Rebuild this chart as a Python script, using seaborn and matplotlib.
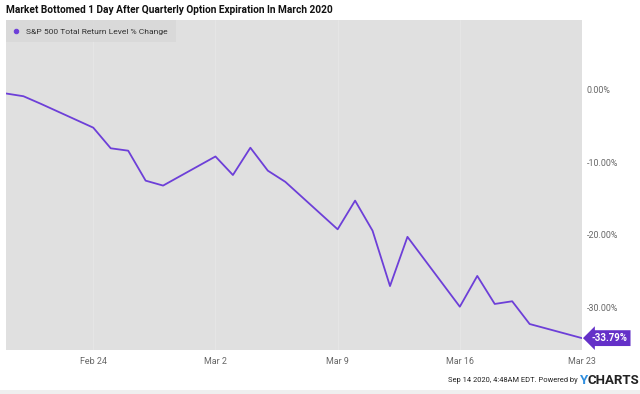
import pandas as pd
import seaborn as sns
import matplotlib.pyplot as plt
import matplotlib.dates as mdates
import matplotlib.transforms as mtransforms
from matplotlib.ticker import FuncFormatter

# S&P 500 total return, % change since Feb 19 2020 (trading days only)
dates = [
    "2020-02-19", "2020-02-20", "2020-02-21", "2020-02-24", "2020-02-25",
    "2020-02-26", "2020-02-27", "2020-02-28", "2020-03-02", "2020-03-03",
    "2020-03-04", "2020-03-05", "2020-03-06", "2020-03-09", "2020-03-10",
    "2020-03-11", "2020-03-12", "2020-03-13", "2020-03-16", "2020-03-17",
    "2020-03-18", "2020-03-19", "2020-03-20", "2020-03-23",
]
pct_change = [
    0.00, -0.38, -1.43, -4.72, -7.57,
    -7.90, -12.04, -12.72, -8.70, -11.26,
    -7.49, -10.66, -12.20, -18.76, -14.80,
    -18.95, -26.60, -19.80, -29.45, -25.20,
    -29.07, -28.70, -31.84, -33.79,
]
series_name = "S&P 500 Total Return Level % Change"
x_ticks = ["2020-02-24", "2020-03-02", "2020-03-09", "2020-03-16", "2020-03-23"]
y_ticks = [0, -10, -20, -30]

df = pd.DataFrame({"Date": pd.to_datetime(dates), "Change": pct_change})

purple = "#6d3fd8"
tag_color = "#6430c8"
grey_text = "#666666"

sns.set_style("white")
plt.rcParams["font.family"] = ["Roboto", "DejaVu Sans"]

fig = plt.figure(figsize=(6.4, 3.94), dpi=100)
ax = fig.add_axes([6 / 640, 1 - 350 / 394, 576 / 640, 330 / 394])
ax.set_facecolor("#e0e0e0")

sns.lineplot(data=df, x="Date", y="Change", color=purple, linewidth=1.3,
             ax=ax, label=series_name)

ax.set_xlim(pd.Timestamp(dates[0]), pd.Timestamp(dates[-1]))
ax.set_ylim(-35.43, 10.15)

ax.set_xticks(pd.to_datetime(x_ticks))
ax.xaxis.set_major_formatter(FuncFormatter(
    lambda v, p: mdates.num2date(v).strftime("%b ") + str(mdates.num2date(v).day)))
ax.set_yticks(y_ticks)
ax.yaxis.set_major_formatter(FuncFormatter(lambda v, p: f"{v:.2f}%"))
ax.yaxis.tick_right()
ax.tick_params(axis="both", length=0, labelsize=6.4, colors=grey_text)
ax.tick_params(axis="x", pad=5)
ax.tick_params(axis="y", pad=3.5)
shift = mtransforms.ScaledTranslation(0, 3.5 / 100, fig.dpi_scale_trans)
for lbl in ax.get_yticklabels():
    lbl.set_transform(lbl.get_transform() + shift)

ax.grid(axis="x", color="#e5e5e5", linewidth=0.8)
ax.set_xlabel("")
ax.set_ylabel("")
for s in ax.spines.values():
    s.set_visible(False)

leg = ax.legend(loc="upper left", frameon=True, handlelength=0.6,
                borderaxespad=0, borderpad=0.9, handletextpad=0.9,
                fancybox=False, fontsize=6.1)
leg.get_frame().set_facecolor("#d8d8d8")
leg.get_frame().set_edgecolor("none")
for h in leg.legend_handles:
    h.set_marker("o")
    h.set_markersize(3.2)
    h.set_markerfacecolor(purple)
    h.set_markeredgecolor(purple)
    h.set_linestyle("none")
for t in leg.get_texts():
    t.set_color("#333333")

# last value tag
ax.annotate(f"{pct_change[-1]:.2f}%", xy=(1.0, pct_change[-1]),
            xycoords=("axes fraction", "data"), xytext=(7, 0),
            textcoords="offset points", ha="left", va="center",
            fontsize=7, fontweight="bold", color="white", annotation_clip=False,
            bbox=dict(boxstyle="larrow,pad=0.3", fc=tag_color, ec="none"))

fig.text(6 / 640, 1 - 10 / 394, "Market Bottomed 1 Day After Quarterly Option Expiration In March 2020",
         ha="left", va="center", fontsize=7.25, fontweight="bold", color="#111111")
fig.text(578 / 640, 1 - 381 / 394, "Sep 14 2020, 4:48AM EDT. Powered by",
         ha="right", va="center", fontsize=5.4, color="#222222")
fig.text(580 / 640, 1 - 380 / 394, "Y", ha="left", va="center", fontsize=9.5,
         fontweight="bold", color="#2f8fe0")
fig.text(588 / 640, 1 - 380 / 394, "CHARTS", ha="left", va="center", fontsize=9.5,
         fontweight="bold", color="#222222")
fig.patches.append(plt.Rectangle((0, 0), 1, 4 / 394, transform=fig.transFigure,
                                 fc="#efefef", ec="none"))

fig.savefig("out.png", dpi=100)
